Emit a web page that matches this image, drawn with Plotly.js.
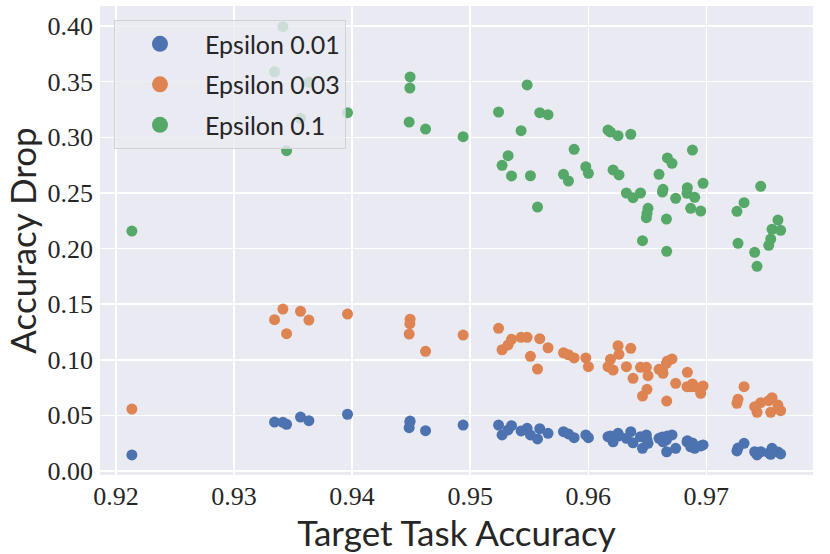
<!DOCTYPE html>
<html>
<head>
<meta charset="utf-8">
<script src="https://cdn.plot.ly/plotly-3.0.1.min.js"></script>
<style>
  body { margin: 0; background: #fff; }
  #chart { width: 830px; height: 554px; }
</style>
</head>
<body>
<div id="chart"></div>
<script>
'use strict';

// target task accuracy of each model (shared by all three epsilons)
const targetAcc = [
  0.92135, 0.93343, 0.93414, 0.93445, 0.93563, 0.93634, 0.93961, 0.94491, 0.94489, 0.94483, 0.94622,
  0.94940, 0.95240, 0.95270, 0.95321, 0.95350, 0.95431, 0.95482, 0.95510, 0.95570, 0.95589, 0.95659,
  0.95790, 0.95832, 0.95880, 0.95979, 0.96001,
  0.96167, 0.96188, 0.96210, 0.96252, 0.96260, 0.96323, 0.96360, 0.96379, 0.96442, 0.96459, 0.96492,
  0.96497, 0.96506, 0.96599, 0.96628, 0.96633, 0.96662, 0.96664, 0.96670, 0.96709, 0.96740, 0.96836,
  0.96839, 0.96867, 0.96882, 0.96901, 0.96952, 0.96972,
  0.97259, 0.97268, 0.97319, 0.97409, 0.97429, 0.97460, 0.97528, 0.97545, 0.97556, 0.97606, 0.97629
];

const dropEps001 = [
  0.0144, 0.0440, 0.0438, 0.0420, 0.0485, 0.0452, 0.0510, 0.0449, 0.0440, 0.0389, 0.0362,
  0.0413, 0.0413, 0.0324, 0.0369, 0.0407, 0.0360, 0.0384, 0.0324, 0.0288, 0.0380, 0.0339,
  0.0353, 0.0333, 0.0299, 0.0324, 0.0299,
  0.0308, 0.0315, 0.0263, 0.0339, 0.0315, 0.0294, 0.0353, 0.0254, 0.0308, 0.0204, 0.0324,
  0.0279, 0.0249, 0.0294, 0.0306, 0.0263, 0.0279, 0.0173, 0.0315, 0.0324, 0.0204, 0.0261,
  0.0272, 0.0218, 0.0252, 0.0204, 0.0225, 0.0234,
  0.0180, 0.0207, 0.0249, 0.0173, 0.0144, 0.0173, 0.0162, 0.0150, 0.0204, 0.0171, 0.0153
];

const dropEps003 = [
  0.0557, 0.1360, 0.1456, 0.1234, 0.1436, 0.1357, 0.1411, 0.1364, 0.1324, 0.1231, 0.1076,
  0.1222, 0.1283, 0.1090, 0.1133, 0.1184, 0.1202, 0.1202, 0.1031, 0.0917, 0.1189, 0.1108,
  0.1063, 0.1045, 0.1016, 0.1016, 0.0938,
  0.0938, 0.1004, 0.0908, 0.1126, 0.1049, 0.0938, 0.1103, 0.0833, 0.0932, 0.0674, 0.0932,
  0.0734, 0.0857, 0.0914, 0.0908, 0.0878, 0.0968, 0.0629, 0.0989, 0.1007, 0.0788, 0.0758,
  0.0887, 0.0758, 0.0782, 0.0758, 0.0698, 0.0764,
  0.0609, 0.0645, 0.0758, 0.0578, 0.0528, 0.0614, 0.0632, 0.0528, 0.0659, 0.0593, 0.0542
];

const dropEps01 = [
  0.2157, 0.3589, 0.3994, 0.2879, 0.3170, 0.3494, 0.3221, 0.3542, 0.3443, 0.3137, 0.3074,
  0.3005, 0.3227, 0.2748, 0.2834, 0.2652, 0.3059, 0.3470, 0.2654, 0.2373, 0.3221, 0.3203,
  0.2667, 0.2607, 0.2892, 0.2735, 0.2676,
  0.3065, 0.3047, 0.2706, 0.3014, 0.2661, 0.2499, 0.3027, 0.2457, 0.2499, 0.2070, 0.2277,
  0.2316, 0.2361, 0.2667, 0.2508, 0.2532, 0.2265, 0.1975, 0.2814, 0.2766, 0.2451, 0.2496,
  0.2547, 0.2361, 0.2885, 0.2460, 0.2337, 0.2586,
  0.2334, 0.2047, 0.2412, 0.1966, 0.1840, 0.2559, 0.2029, 0.2085, 0.2173, 0.2256, 0.2164
];

const seriesNames = ['Epsilon 0.01', 'Epsilon 0.03', 'Epsilon 0.1'];
const seriesDrops = [dropEps001, dropEps003, dropEps01];
const seriesColors = ['#4C72B0', '#DD8452', '#55A868'];

const xTicks = [0.92, 0.93, 0.94, 0.95, 0.96, 0.97];
const yTicks = [0.00, 0.05, 0.10, 0.15, 0.20, 0.25, 0.30, 0.35, 0.40];

const tickFont = { family: 'Liberation Serif, DejaVu Serif, serif', size: 26, color: '#262626' };
const labelFont = { family: 'Lato, Open Sans, sans-serif', size: 35, color: '#262626' };

const traces = [];
seriesDrops.forEach(function(drops, i) {
    traces.push({
        x: targetAcc,
        y: drops,
        type: 'scatter',
        mode: 'markers',
        name: seriesNames[i],
        showlegend: false,
        hoverinfo: 'skip',
        marker: { color: seriesColors[i], size: 11, line: { width: 0 } }
    });
});
// legend entries with bigger dots, no data of their own
seriesNames.forEach(function(name, i) {
    traces.push({
        x: [null],
        y: [null],
        type: 'scatter',
        mode: 'markers',
        name: name,
        legendgroup: 'g' + i,
        marker: { color: seriesColors[i], size: 16 }
    });
});

const layout = {
    width: 830,
    height: 554,
    margin: { l: 100, r: 17, t: 6, b: 79 },
    paper_bgcolor: '#ffffff',
    plot_bgcolor: '#EAEAF2',
    showlegend: true,
    legend: {
        x: 0.0196, y: 0.970,
        xanchor: 'left', yanchor: 'top',
        bgcolor: 'rgba(234,234,242,0.8)',
        bordercolor: 'rgba(204,204,204,0.8)',
        borderwidth: 1,
        font: { family: 'Lato, Open Sans, sans-serif', size: 25, color: '#262626' },
        itemwidth: 80,
        traceorder: 'grouped',
        tracegroupgap: 5
    },
    xaxis: {
        range: [0.91865, 0.97903],
        tickvals: xTicks,
        ticktext: xTicks.map(function(v) { return v.toFixed(2); }),
        tickfont: tickFont,
        ticks: '',
        ticklabelstandoff: 3,
        showline: false,
        zeroline: false,
        gridcolor: '#ffffff',
        gridwidth: 1.5,
        title: { text: 'Target Task Accuracy', font: labelFont, standoff: 0 }
    },
    yaxis: {
        range: [-0.0036, 0.4180],
        tickvals: yTicks,
        ticktext: yTicks.map(function(v) { return v.toFixed(2); }),
        tickfont: tickFont,
        ticks: '',
        ticklabelstandoff: 6,
        showline: false,
        zeroline: false,
        gridcolor: '#ffffff',
        gridwidth: 1.5,
        title: { text: 'Accuracy Drop', font: labelFont, standoff: 0 }
    }
};

Plotly.newPlot('chart', traces, layout, { displayModeBar: false, staticPlot: true });
</script>
</body>
</html>
